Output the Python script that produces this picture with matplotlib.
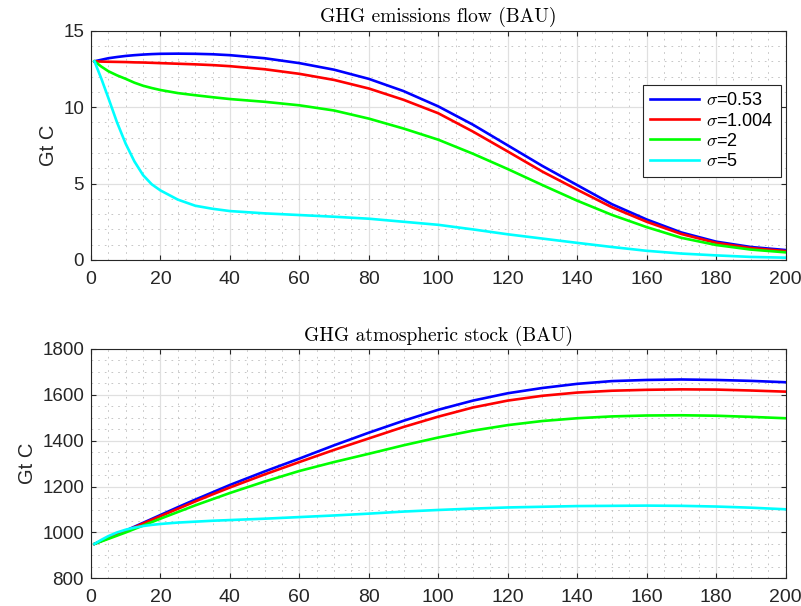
import matplotlib
matplotlib.use("Agg")
import matplotlib.pyplot as plt
from matplotlib.ticker import MultipleLocator

plt.rcParams['font.family'] = ['Liberation Sans', 'DejaVu Sans']
plt.rcParams['mathtext.fontset'] = 'cm'

# ---- data ----
years = [1, 3, 5, 7.5, 10, 12.5, 15, 17.5, 20, 25, 30, 35, 40, 50, 60, 70, 80, 90,
         100, 110, 120, 130, 140, 150, 160, 170, 180, 190, 200]

labels = [r'$\sigma$=0.53', r'$\sigma$=1.004', r'$\sigma$=2', r'$\sigma$=5']
colors = ['#0000ff', '#ff0000', '#00ff00', '#00ffff']

flow_s053 = [13.0, 13.1, 13.2, 13.28, 13.35, 13.4, 13.44, 13.47, 13.49, 13.5, 13.49, 13.46, 13.4,
             13.2, 12.88, 12.45, 11.85, 11.05, 10.05, 8.85, 7.5, 6.15, 4.9, 3.65, 2.65, 1.8, 1.2, 0.85, 0.65]
flow_s1004 = [13.0, 12.98, 12.97, 12.96, 12.95, 12.93, 12.92, 12.9, 12.88, 12.84, 12.8, 12.75, 12.68,
              12.48, 12.18, 11.78, 11.22, 10.48, 9.6, 8.4, 7.1, 5.78, 4.6, 3.45, 2.5, 1.7, 1.12, 0.78, 0.58]
flow_s2 = [13.0, 12.65, 12.35, 12.08, 11.85, 11.6, 11.4, 11.25, 11.12, 10.92, 10.78, 10.65, 10.53,
           10.35, 10.12, 9.78, 9.25, 8.6, 7.87, 6.95, 5.95, 4.9, 3.88, 2.95, 2.15, 1.45, 0.98, 0.68, 0.5]
flow_s5 = [13.0, 11.85, 10.6, 9.0, 7.6, 6.45, 5.55, 4.95, 4.55, 3.95, 3.55, 3.35, 3.2,
           3.05, 2.94, 2.83, 2.7, 2.5, 2.3, 2.0, 1.68, 1.4, 1.12, 0.85, 0.6, 0.42, 0.3, 0.2, 0.15]

stock_s053 = [950, 963, 976, 992, 1008, 1025, 1042, 1059, 1076, 1110, 1143, 1175, 1207,
              1266, 1322, 1380, 1435, 1487, 1535, 1575, 1607, 1630, 1648, 1660, 1665, 1667, 1665, 1661, 1655]
stock_s1004 = [950, 963, 975, 991, 1006, 1022, 1039, 1055, 1071, 1103, 1135, 1166, 1196,
               1253, 1307, 1360, 1410, 1460, 1505, 1545, 1575, 1596, 1610, 1618, 1622, 1624, 1623, 1619, 1614]
stock_s2 = [950, 961, 972, 986, 1000, 1015, 1030, 1045, 1060, 1089, 1118, 1145, 1172,
            1222, 1268, 1307, 1343, 1380, 1414, 1444, 1468, 1486, 1498, 1506, 1510, 1511, 1509, 1504, 1498]
stock_s5 = [950, 968, 984, 1000, 1012, 1021, 1028, 1033, 1037, 1043, 1047, 1051, 1054,
            1060, 1067, 1074, 1082, 1091, 1098, 1104, 1109, 1112, 1115, 1116, 1117, 1116, 1113, 1108, 1101]

flows = [flow_s053, flow_s1004, flow_s2, flow_s5]
stocks = [stock_s053, stock_s1004, stock_s2, stock_s5]

TXT = '#262626'

fig = plt.figure(figsize=(8.01, 6.06), dpi=100)
ax1 = fig.add_axes([0.1136, 0.571, 0.8671, 0.3783])
ax2 = fig.add_axes([0.1136, 0.0457, 0.8671, 0.3784])


def style(ax, ylim, ymaj, ymin, title):
    ax.set_xlim(0, 200)
    ax.set_ylim(*ylim)
    ax.xaxis.set_major_locator(MultipleLocator(20))
    ax.xaxis.set_minor_locator(MultipleLocator(5))
    ax.yaxis.set_major_locator(MultipleLocator(ymaj))
    ax.yaxis.set_minor_locator(MultipleLocator(ymin))
    ax.grid(True, which='major', color='#e0e0e0', linewidth=0.9, linestyle='-')
    ax.grid(True, which='minor', color='#bdbdbd', linewidth=0.6, linestyle=(0, (2, 6)))
    ax.set_axisbelow(True)
    ax.tick_params(which='major', direction='in', length=3.5, width=0.8, colors=TXT,
                   top=True, right=True)
    ax.tick_params(axis='y', which='major', labelsize=13.5, pad=5)
    ax.tick_params(axis='x', which='major', labelsize=14, pad=8)
    ax.tick_params(which='minor', length=0, top=True, right=True)
    for s in ax.spines.values():
        s.set_color(TXT)
        s.set_linewidth(0.8)
    ax.set_ylabel('Gt C', fontsize=14.5, color=TXT)
    ax.set_title(title, fontsize=14, fontfamily='cmr10', color='black', pad=6)


for vals, c, lab in zip(flows, colors, labels):
    ax1.plot(years, vals, color=c, linewidth=1.9, label=lab)
for vals, c, lab in zip(stocks, colors, labels):
    ax2.plot(years, vals, color=c, linewidth=1.9, label=lab)

style(ax1, (0, 15), 5, 1, 'GHG emissions flow (BAU)')
style(ax2, (800, 1800), 200, 50, 'GHG atmospheric stock (BAU)')

leg = ax1.legend(loc='upper right', bbox_to_anchor=(0.9935, 0.763), borderaxespad=0,
                 fontsize=13, fancybox=False, framealpha=1, edgecolor=TXT,
                 handlelength=2.7, handletextpad=0.4, labelspacing=0.18,
                 borderpad=0.4)
leg.get_frame().set_linewidth(0.8)

fig.savefig('out.png', dpi=100)
